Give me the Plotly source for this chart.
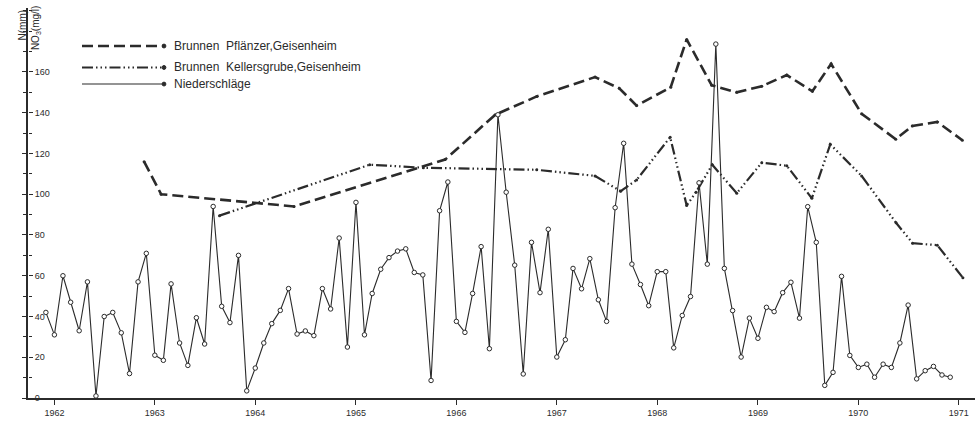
import pandas as pd
import plotly.graph_objects as go

# Monthly precipitation N (mm), Dec 1961 .. Dec 1970
precip_start = "1961-12-01"
precip_mm = [
    42,
    31, 60, 47, 33, 57, 1, 40, 42, 32, 12, 57, 71,
    21, 18.5, 56, 27, 16, 39.4, 26.5, 94, 45, 37, 70, 3.5,
    14.7, 27, 36.5, 43, 53.7, 31.4, 32.9, 30.6, 53.7, 43.7, 78.5, 25,
    96, 31, 51.3, 63.2, 68.9, 72.1, 73.2, 61.6, 60.4, 8.6, 91.9, 106,
    37.6, 32.2, 51.3, 74.3, 24.2, 139, 101, 65.2, 11.8, 76.4, 51.7, 82.8,
    20.1, 28.6, 63.6, 53.6, 68.4, 48.2, 37.6, 93.4, 125, 65.7, 55.7, 45.3,
    62, 62, 24.6, 40.5, 49.8, 105.6, 65.7, 173.7, 63.6, 42.9, 20.1, 39.2,
    29.3, 44.5, 42.4, 51.7, 56.8, 39.2, 93.9, 76.4, 6.2, 12.6, 59.7, 20.9,
    15, 16.6, 10.2, 16.6, 15, 27, 45.6, 9.4, 13.4, 15.5, 11.3, 10.2,
]
precip_dates = pd.date_range(precip_start, periods=len(precip_mm), freq="MS")

# Nitrate, well "Pflänzer" (mg/l)
pfl_dates = [
    "1962-11-23", "1963-01-24", "1964-05-21", "1965-11-21", "1966-05-22",
    "1966-10-20", "1967-05-20", "1967-08-16", "1967-10-18", "1968-02-19",
    "1968-04-17", "1968-07-17", "1968-10-16", "1969-01-15", "1969-04-16",
    "1969-07-18", "1969-09-24", "1970-01-13", "1970-05-17", "1970-07-16",
    "1970-10-15", "1971-01-14",
]
pfl_no3 = [
    116, 100, 94, 117, 139, 148, 157.5, 152, 143.5, 152.5, 176, 153.5,
    150, 153, 158.5, 150.5, 164, 139.5, 127, 133.5, 135.5, 126.5,
]

# Nitrate, well "Kellersgrube" (mg/l)
kel_dates = [
    "1963-08-24", "1965-02-20", "1965-09-03", "1966-10-20", "1967-05-20",
    "1967-08-21", "1967-10-18", "1968-02-17", "1968-04-17", "1968-05-21",
    "1968-07-19", "1968-10-16", "1969-01-15", "1969-04-16", "1969-07-16",
    "1969-09-21", "1970-01-13", "1970-05-18", "1970-07-17", "1970-10-15",
    "1971-01-16",
]
kel_no3 = [
    89.5, 114.5, 113, 112, 109, 101.5, 107, 128, 94.5, 101, 114.5, 100.5,
    115.5, 114, 98, 124.5, 109, 86, 76, 75, 59,
]

series_names = [
    "Brunnen  Pflänzer,Geisenheim",
    "Brunnen  Kellersgrube,Geisenheim",
    "Niederschläge",
]
y_ticks = [0, 20, 40, 60, 80, 100, 120, 140, 160]
year_ticks = list(range(1962, 1972))

INK = "#2b2b2b"
FONT = "Liberation Sans"
DASH_LONG = "11px,5px"
DASH_DDOT = "11px,3px,1.5px,3px,1.5px,3px,1.5px,3px"

fig = go.Figure()

# Hidden trace binding the NO3 label scale
fig.add_trace(go.Scatter(x=[precip_dates[0]], y=[0], yaxis="y2",
                         mode="markers", marker=dict(opacity=0),
                         hoverinfo="skip", showlegend=False))

# N (mm) scale labels, drawn just left of the shared axis line
fig.add_trace(go.Scatter(
    x=["1961-09-15"] * len(y_ticks), y=y_ticks,
    text=[str(v) for v in y_ticks], mode="text",
    textposition="middle left", cliponaxis=False,
    textfont=dict(family=FONT, size=9, color=INK),
    hoverinfo="skip", showlegend=False,
))

fig.add_trace(go.Scatter(
    x=pfl_dates, y=pfl_no3, mode="lines+markers", name=series_names[0],
    line=dict(color=INK, width=2.6, dash=DASH_LONG),
    marker=dict(size=3, color=INK),
))
fig.add_trace(go.Scatter(
    x=kel_dates, y=kel_no3, mode="lines+markers", name=series_names[1],
    line=dict(color=INK, width=2.2, dash=DASH_DDOT),
    marker=dict(size=3, color=INK),
))
fig.add_trace(go.Scatter(
    x=precip_dates, y=precip_mm, mode="lines+markers", name=series_names[2],
    line=dict(color=INK, width=1.1),
    marker=dict(size=4.5, color="white", line=dict(color=INK, width=1)),
))

# Hand-drawn style legend: sample lines with text, upper left
legend_rows = [(47, DASH_LONG, 2.6), (69, DASH_DDOT, 2.2), (86, "solid", 1.1)]
for (ypix, dash, w), label in zip(legend_rows, series_names):
    yp = 1 - (ypix - 8) / 400
    x0p, x1p = (82 - 28) / 947, (164 - 28) / 947
    fig.add_shape(type="line", xref="paper", yref="paper",
                  x0=x0p, x1=x1p, y0=yp, y1=yp,
                  line=dict(color=INK, width=w, dash=dash))
    fig.add_shape(type="circle", xref="paper", yref="paper",
                  x0=x1p - 0.002, x1=x1p + 0.002, y0=yp - 0.005, y1=yp + 0.005,
                  line=dict(color=INK, width=1), fillcolor=INK)
    fig.add_annotation(xref="paper", yref="paper", x=(172 - 28) / 947, y=yp,
                       text=label, showarrow=False, xanchor="left",
                       yanchor="middle", font=dict(family=FONT, size=12, color=INK))

# Rotated axis titles on either side of the value axis
fig.add_annotation(xref="paper", yref="paper", x=(22 - 28) / 947, y=1.0,
                   text="N(mm)", textangle=-90, showarrow=False,
                   xanchor="center", yanchor="top",
                   font=dict(family=FONT, size=10, color=INK))
fig.add_annotation(xref="paper", yref="paper", x=(36 - 28) / 947, y=1.01,
                   text="NO<sub>3</sub>(mg/l)", textangle=-90, showarrow=False,
                   xanchor="center", yanchor="top",
                   font=dict(family=FONT, size=10, color=INK))

y_range = [0, 191.4]
fig.update_layout(
    width=980, height=423,
    margin=dict(l=28, r=5, t=8, b=15),
    paper_bgcolor="white", plot_bgcolor="white",
    showlegend=False,
    font=dict(family=FONT, color=INK),
    xaxis=dict(
        type="date", range=["1961-09-27", "1971-03-01"],
        tickvals=[f"{y}-01-01" for y in year_ticks],
        ticktext=[str(y) for y in year_ticks],
        showgrid=False, zeroline=False,
        showline=True, linecolor=INK, linewidth=1.5,
        ticks="outside", ticklen=5, tickwidth=1, tickcolor=INK,
        tickfont=dict(family=FONT, size=9, color=INK),
    ),
    # shared value axis line with ticks on its left side
    yaxis=dict(
        range=y_range, tickvals=y_ticks, showticklabels=False,
        showgrid=False, zeroline=False,
        showline=True, linecolor=INK, linewidth=1.5,
        ticks="outside", ticklen=4, tickwidth=1, tickcolor=INK,
        minor=dict(dtick=10, tick0=0, ticks="outside", ticklen=3,
                   tickcolor=INK, showgrid=False),
    ),
    # NO3 (mg/l) scale: ticks and labels right of the axis line
    yaxis2=dict(
        range=y_range, tickvals=y_ticks, overlaying="y", side="right",
        anchor="free", position=0,
        showgrid=False, zeroline=False, showline=False,
        ticks="outside", ticklen=4, tickwidth=1, tickcolor=INK,
        tickfont=dict(family=FONT, size=9, color=INK),
        minor=dict(dtick=10, tick0=0, ticks="outside", ticklen=3,
                   tickcolor=INK, showgrid=False),
    ),
)

fig.write_html("out.html")
